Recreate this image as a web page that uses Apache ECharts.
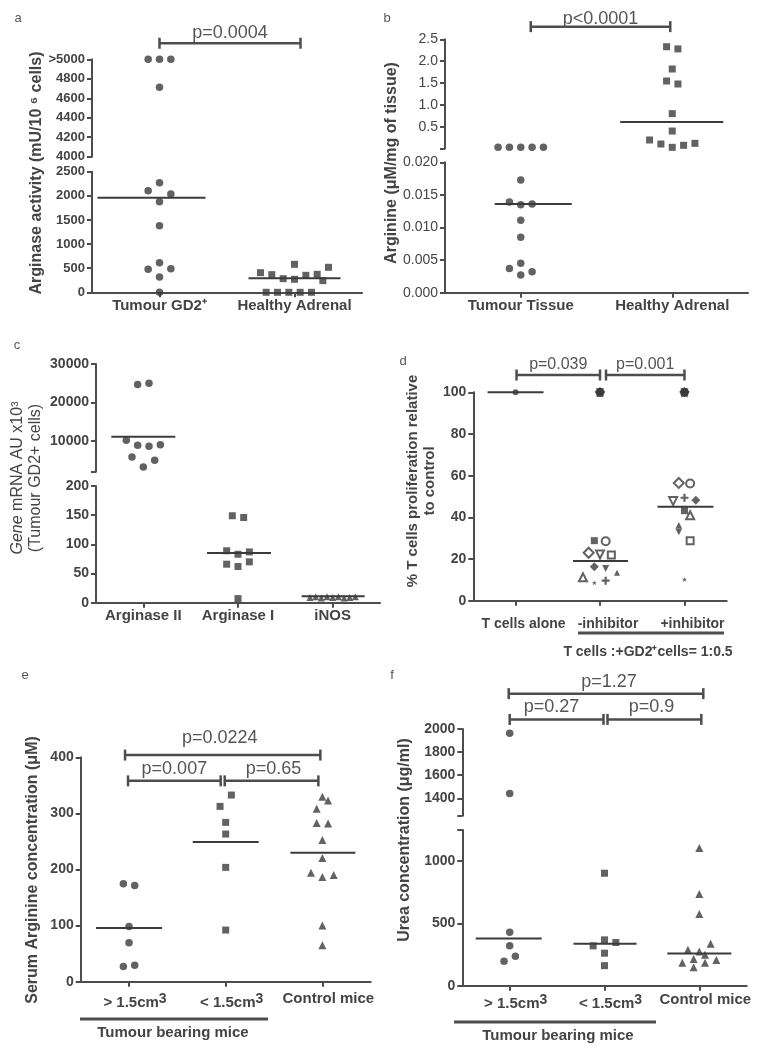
<!DOCTYPE html>
<html><head><meta charset="utf-8">
<script src="https://cdn.jsdelivr.net/npm/echarts@6/dist/echarts.min.js"></script>
<style>html,body{margin:0;padding:0;background:#fff}#c{width:760px;height:1049px}</style>
</head><body><div id="c"></div>
<script>
// ================= DATA =================
// Panel a – Arginase activity
const aCategories = ['Tumour GD2⁺', 'Healthy Adrenal'];
const aTumour  = [5000, 5000, 5000, 4712, 2272, 2106, 2037, 1878, 1381, 615, 476, 490, 318, 0];
const aHealthy = [407, 366, 283, 270, 580, 352, 373, 242, 518, 0, 0, 0, 0, 0];
const aMedians = [1960, 290];
const aPValues = ['p=0.0004'];

// Panel b – Arginine in tissue
const bCategories = ['Tumour Tissue', 'Healthy Adrenal'];
const bTumour  = [0.027, 0.027, 0.027, 0.027, 0.027, 0.0173, 0.0139, 0.0135, 0.0136, 0.0111, 0.0085, 0.0045, 0.0037, 0.0027, 0.0032];
const bHealthy = [2.33, 2.28, 1.82, 1.545, 1.477, 0.798, 0.40, 0.195, 0.103, 0.027, 0.073, 0.118];
const bMedians = [0.0136, 0.607];
const bPValues = ['p<0.0001'];

// Panel c – gene mRNA
const cCategories = ['Arginase II', 'Arginase I', 'iNOS'];
const cArgII = [24700, 25000, 10200, 8900, 8600, 9000, 5800, 5000, 3200];
const cArgI  = [149, 146, 89, 83, 87, 66, 62, 70, 7];
const cINOS  = [9, 10, 8, 10, 9, 10, 8, 9, 10];
const cMedians = [11100, 85, 11];

// Panel d – T cell proliferation (11 donors, same order in both groups)
const dCategories = ['T cells alone', '-inhibitor', '+inhibitor'];
const dAlone = [100];
const dMinusInhibitor = [28.8, 28.5, 23.0, 22.2, 21.9, 16.3, 15.4, 11.2, 13.4, 8.6, 9.6];
const dPlusInhibitor  = [43.2, 56.2, 56.5, 47.8, 28.8, 48.2, 33.1, 41.0, 36.3, 10.2, 49.4];
const dControlLevel = [100, 100];
const dMedians = [100, 19.0, 45.1];
const dPValues = ['p=0.039', 'p=0.001'];

// Panel e – serum arginine
const eCategories = ['> 1.5cm3', '< 1.5cm3', 'Control mice'];
const eLarge   = [174.7, 171.7, 98.6, 69.5, 27.3, 29.1];
const eSmall   = [332.7, 312.5, 284, 263.2, 203.8, 92.1];
const eControl = [329.8, 323.2, 308.4, 282.8, 282.2, 252.5, 220.4, 194.3, 186.6, 190.1, 100.4, 64.8];
const eMedians = [95.7, 249, 230];
const ePValues = ['p=0.0224', 'p=0.007', 'p=0.65'];

// Panel f – urea
const fCategories = ['> 1.5cm3', '< 1.5cm3', 'Control mice'];
const fLarge   = [1963, 1443, 430, 320, 237, 196];
const fSmall   = [903, 368, 261, 161, 320, 347];
const fControl = [1105, 737, 575, 336, 288, 274, 248, 215, 185, 185, 207, 148];
const fMedians = [379, 336, 258];
const fPValues = ['p=1.27', 'p=0.27', 'p=0.9'];

// ================= STYLE / LAYOUT =================
const DARK = '#3b3b3b', AX = '#4d4d4d', TXT = '#444', FONT = '"Liberation Sans", Arial, Helvetica, sans-serif';
const HS = 5.67; // half dot-slot in px (jitter spacing)

// jitter slots (in half-slot units) – layout only
const aTumourSlots  = [-2, 0, 2, 0, 0, -2, 2, 0, 0, 0, -2, 2, 0, 0];
const aHealthySlots = [-6, -4, -2, 0, 0, 2, 4, 5, 6, -5, -3, -1, 1, 3];
const bTumourSlots  = [-4, -2, 0, 2, 4, 0, -2, 0, 2, 0, 0, 0, -2, 0, 2];
const bHealthySlots = [-1, 1, 0, -1, 1, 0, 0, -4, -2, 0, 2, 4];
const cArgIISlots = [-1, 1, -3, -1, 1, 3, -2, 2, 0];
const cArgISlots  = [-1, 1, -2, 0, 2, -2, 0, 2, 0];
const cINOSSlots  = [-4, -3, -2, -1, 0, 1, 2, 3, 4];
const dMinusSlots = [-1, 1, -2, 0, 2, -1, 1, -3, 3, -1, 1];
const dPlusSlots  = [0, 1, -1, -2, 1, 2, -1, 1, -1, 0, 0];
const eLargeSlots = [-1, 1, 0, 0, -1, 1];
const eSmallSlots = [1, -1, 0, 0, 0, 0];
const eControlSlots = [0, 1, -1, -1, 1, 0, 0, -2, 0, 2, 0, 0];
const fLargeSlots = [0, 0, 0, 0, 1, -1];
const fSmallSlots = [0, 0, 0, 0, -2, 2];
const fControlSlots = [0, 0, 0, 2, -2, 0, 1, -1, -3, 1, 3, -1];

const PLUS = 'path://M36,0H64V36H100V64H64V100H36V64H0V36H36Z';
const STAR = 'path://M50,0L61,35L98,35L68,57L79,91L50,70L21,91L32,57L2,35L39,35Z';
const TRIDOWN = 'path://M0,0L100,0L50,87Z';
// donor symbol styles for panel d: [symbol, filled, size]
const dDonorStyle = [
  ['rect', true, 7], ['circle', false, 8], ['diamond', false, 10], [TRIDOWN, false, 8],
  ['rect', false, 7], ['diamond', true, 9], [TRIDOWN, true, 7], ['triangle', false, 8],
  ['triangle', true, 6], [STAR, true, 5], [PLUS, true, 8]
];
// shapes overlapping at the control level (gives the "burst" mark)
const dBurstStyle = [['circle', 9], ['diamond', 10], ['triangle', 8], [TRIDOWN, 8], ['rect', 6], [STAR, 11]];

const option = {animation: false, backgroundColor: '#fff', grid: [], xAxis: [], yAxis: [], series: [], graphic: []};

function addSeg(p, seg) {
  const gi = option.grid.length;
  option.grid.push({left: p.left, width: p.width, top: seg.top, height: seg.height, containLabel: false, outerBoundsMode: 'none'});
  const xl = {show: true, interval: 0, color: TXT, fontFamily: FONT, fontSize: p.xFont || 15, fontWeight: 'bold', margin: p.xMargin || 6};
  if (p.xPad) xl.padding = p.xPad;
  if (p.xFormatter) { xl.formatter = p.xFormatter; xl.rich = p.xRich; }
  option.xAxis.push({type: 'category', gridIndex: gi, data: p.categories, show: !!seg.showX, boundaryGap: true,
    axisLine: {show: true, onZero: false, lineStyle: {color: AX, width: 2}},
    axisTick: {show: true, alignWithLabel: true, length: 5, lineStyle: {color: AX, width: 2}},
    axisLabel: xl, splitLine: {show: false}});
  const y = {type: 'value', gridIndex: gi, min: seg.min, max: seg.max,
    axisLine: {show: true, onZero: false, lineStyle: {color: AX, width: 2}},
    axisTick: {show: true, length: 5, lineStyle: {color: AX, width: 2}},
    axisLabel: {color: TXT, fontFamily: FONT, fontSize: p.yFont || 14, fontWeight: p.yWeight || 'bold', margin: 7,
      formatter: seg.formatter || (v => String(v))},
    splitLine: {show: false}};
  if (seg.interval) y.interval = seg.interval;
  if (seg.ticks) y.axisTick.customValues = seg.ticks;
  if (seg.labels) y.axisLabel.customValues = seg.labels;
  option.yAxis.push(y);
  return gi;
}

function segOf(p, v) {
  for (let i = 0; i < p.segs.length; i++) if (v >= p.segs[i].min && v <= p.segs[i].max) return i;
  return p.segs.length - 1;
}

function buildPanel(p) {
  const gis = p.segs.map(s => addSeg(p, s));
  p.gis = gis;
  // points
  p.groups.forEach(g => {
    p.segs.forEach((s, si) => {
      const data = [];
      g.values.forEach((v, k) => {
        if (segOf(p, v) !== si) return;
        const item = {value: [g.cat, v], symbolOffset: [(g.slots ? g.slots[k] : 0) * HS, 0]};
        if (g.styles) {
          const st = g.styles[k];
          item.symbol = st[0]; item.symbolSize = st[2];
          item.itemStyle = st[1] ? {color: DARK, borderWidth: 0} : {color: '#fff', borderColor: DARK, borderWidth: 2};
        }
        data.push(item);
      });
      if (!data.length) return;
      option.series.push({type: 'scatter', xAxisIndex: gis[si], yAxisIndex: gis[si], clip: false, z: 3,
        symbol: g.symbol || 'circle', symbolSize: g.size || 7, itemStyle: {color: DARK}, data: data});
    });
  });
  // medians
  p.segs.forEach((s, si) => {
    const data = [];
    p.medians.forEach((m, k) => { if (segOf(p, m) === si) data.push([k, m]); });
    if (!data.length) return;
    option.series.push({type: 'custom', xAxisIndex: gis[si], yAxisIndex: gis[si], clip: false, z: 4, data: data,
      renderItem: (params, api) => {
        const c = api.coord([api.value(0), api.value(1)]);
        const ext = p.medianExt[api.value(0)];
        return {type: 'line', shape: {x1: c[0] + ext[0], y1: c[1], x2: c[0] + ext[1], y2: c[1]},
          style: {stroke: DARK, lineWidth: 2}};
      }});
  });
  // brackets
  if (p.brackets) {
    const si = p.bracketSeg;
    option.series.push({type: 'custom', xAxisIndex: gis[si], yAxisIndex: gis[si], clip: false, z: 4,
      data: p.brackets,
      renderItem: (params, api) => {
        const i = params.dataIndex;
        const adj = p.bracketAdj[i];
        const a = api.coord([api.value(0), api.value(2)]);
        const b = api.coord([api.value(1), api.value(2)]);
        const x1 = a[0] + adj[0], x2 = b[0] + adj[1], y = a[1];
        const st = {stroke: AX, lineWidth: 2.5};
        return {type: 'group', children: [
          {type: 'line', shape: {x1: x1, y1: y, x2: x2, y2: y}, style: st},
          {type: 'line', shape: {x1: x1, y1: y - 5.5, x2: x1, y2: y + 5.5}, style: st},
          {type: 'line', shape: {x1: x2, y1: y - 5.5, x2: x2, y2: y + 5.5}, style: st},
          {type: 'text', style: {text: p.pLabels[i], x: (x1 + x2) / 2 + (adj[2] || 0), y: y + adj[3],
            align: 'center', verticalAlign: 'middle', fill: '#555', font: (p.pFont || 18) + 'px ' + FONT}}
        ]};
      }});
  }
  return p;
}

const supRich = {s: {fontSize: 14, fontWeight: 'bold', fontFamily: FONT, color: TXT, padding: [0, 0, 9, 0]}};
const supFmt = v => v.replace('cm3', 'cm{s|3}');

// Panel a
buildPanel({left: 92, width: 270, categories: aCategories, yFont: 13,
  segs: [{top: 171.7, height: 120.6, min: 0, max: 2500, interval: 500, showX: true},
         {top: 59.3, height: 97.4, min: 4000, max: 5000, interval: 200, formatter: v => v === 5000 ? '>5000' : String(v)}],
  groups: [{cat: 0, values: aTumour, slots: aTumourSlots, symbol: 'circle', size: 7.5},
           {cat: 1, values: aHealthy, slots: aHealthySlots, symbol: 'rect', size: 7}],
  medians: aMedians, medianExt: [[-62, 46], [-46, 46]],
  brackets: [[0, 1, 5165]], bracketSeg: 1, bracketAdj: [[0, 6, 0, -10]], pLabels: aPValues});

// Panel b
buildPanel({left: 445, width: 303, categories: bCategories, yWeight: 'normal', yFont: 14,
  segs: [{top: 162.3, height: 130.4, min: 0, max: 0.02, interval: 0.005, showX: true, formatter: v => v.toFixed(3)},
         {top: 39.3, height: 109.2, min: 0, max: 2.5, interval: 0.5, formatter: v => v === 0 ? '' : v.toFixed(1)}],
  groups: [{cat: 0, values: bTumour, slots: bTumourSlots, symbol: 'circle', size: 7.5},
           {cat: 1, values: bHealthy, slots: bHealthySlots, symbol: 'rect', size: 7}],
  medians: bMedians, medianExt: [[-26, 51], [-52, 51]],
  brackets: [[0, 1, 2.79]], bracketSeg: 1, bracketAdj: [[10, -2, 0, -8]], pLabels: bPValues});

// Panel c
buildPanel({left: 96, width: 284, categories: cCategories,
  segs: [{top: 486, height: 116.7, min: 0, max: 200, interval: 50, showX: true},
         {top: 364, height: 107.7, min: 2000, max: 30000, ticks: [2000, 10000, 20000, 30000], labels: [10000, 20000, 30000]}],
  groups: [{cat: 0, values: cArgII, slots: cArgIISlots, symbol: 'circle', size: 7.5},
           {cat: 1, values: cArgI, slots: cArgISlots, symbol: 'rect', size: 7},
           {cat: 2, values: cINOS, slots: cINOSSlots, symbol: 'triangle', size: 7}],
  medians: cMedians, medianExt: [[-32, 32], [-31, 33], [-31, 32]]});

// Panel d
const pd = buildPanel({left: 473.3, width: 253.4, categories: dCategories, xFont: 14, xMargin: 16, xPad: [0, 0, 0, 16],
  segs: [{top: 392.3, height: 208.4, min: 0, max: 100, interval: 20, showX: true}],
  groups: [{cat: 0, values: dAlone, symbol: 'circle', size: 6},
           {cat: 1, values: dMinusInhibitor, slots: dMinusSlots, styles: dDonorStyle},
           {cat: 2, values: dPlusInhibitor, slots: dPlusSlots, styles: dDonorStyle}],
  medians: dMedians, medianExt: [[-28, 28], [-27, 28], [-27, 29]],
  brackets: [[0, 1, 108.3], [1, 2, 108.3]], bracketSeg: 0, bracketAdj: [[1, 0, 0, -10], [6, 0, 0, -10]],
  pLabels: dPValues, pFont: 16});
// overlapping donor symbols at control level (100) in the two co-culture groups
dControlLevel.forEach((v, k) => {
  const gi = pd.gis[0];
  option.series.push({type: 'scatter', xAxisIndex: gi, yAxisIndex: gi, clip: false, z: 3,
    data: dBurstStyle.map(st => ({value: [k + 1, v], symbol: st[0], symbolSize: st[1], itemStyle: {color: DARK}}))});
});

// Panel e
buildPanel({left: 80.7, width: 290, categories: eCategories, xMargin: 10, xPad: [0, 0, 0, 12],
  xFormatter: supFmt, xRich: supRich,
  segs: [{top: 757.3, height: 224.4, min: 0, max: 400, interval: 100, showX: true}],
  groups: [{cat: 0, values: eLarge, slots: eLargeSlots, symbol: 'circle', size: 7.5},
           {cat: 1, values: eSmall, slots: eSmallSlots, symbol: 'rect', size: 7},
           {cat: 2, values: eControl, slots: eControlSlots, symbol: 'triangle', size: 8}],
  medians: eMedians, medianExt: [[-33, 33], [-33, 33], [-32, 33]],
  brackets: [[0, 2, 404], [0, 1, 358], [1, 2, 358]], bracketSeg: 0,
  bracketAdj: [[-4, -2, -3, -17], [-1, -5, 0, -12], [-1, -4, 2, -12]], pLabels: ePValues});

// Panel f
buildPanel({left: 462.3, width: 284.4, categories: fCategories, xMargin: 7, xPad: [0, 0, 0, 12],
  xFormatter: supFmt, xRich: supRich,
  segs: [{top: 830, height: 155.7, min: 0, max: 1250, ticks: [0, 500, 1000, 1250], labels: [0, 500, 1000], showX: true},
         {top: 729, height: 86.7, min: 1250, max: 2000, ticks: [1250, 1400, 1600, 1800, 2000], labels: [1400, 1600, 1800, 2000]}],
  groups: [{cat: 0, values: fLarge, slots: fLargeSlots, symbol: 'circle', size: 7.5},
           {cat: 1, values: fSmall, slots: fSmallSlots, symbol: 'rect', size: 7},
           {cat: 2, values: fControl, slots: fControlSlots, symbol: 'triangle', size: 8}],
  medians: fMedians, medianExt: [[-34, 32], [-31, 32], [-32, 32]],
  brackets: [[0, 2, 2306], [0, 1, 2083], [1, 2, 2083]], bracketSeg: 1,
  bracketAdj: [[-1, 4, 3, -12], [0, -1, -5, -12], [3, 2, -3, -12]], pLabels: fPValues});

// ================= annotations (texts, group lines) =================
function txt(x, y, text, size, weight, rot, extra) {
  const o = {type: 'text', x: x, y: y, rotation: rot || 0, z: 10,
    style: Object.assign({text: text, align: 'center', verticalAlign: 'middle', fill: TXT,
      font: (weight || 'normal') + ' ' + size + 'px ' + FONT}, extra || {})};
  option.graphic.push(o);
}
function hline(x1, x2, y, w) {
  option.graphic.push({type: 'line', z: 10, shape: {x1: x1, y1: y, x2: x2, y2: y}, style: {stroke: AX, lineWidth: w}});
}
const R = Math.PI / 2;
[['a', 18, 18], ['b', 387, 18], ['c', 17, 345], ['d', 403, 361], ['e', 25, 675], ['f', 392, 675]]
  .forEach(l => txt(l[1], l[2], l[0], 13, 'normal', 0, {fill: '#555'}));
txt(37, 173, 'Arginase activity (mU/10 ⁶ cells)', 16, 'bold', R);
txt(392, 163, 'Arginine (μM/mg of tissue)', 16, 'bold', R);
txt(27, 478, '{i|Gene} mRNA AU x10³\n(Tumour GD2+ cells)', 16, 'normal', R,
  {lineHeight: 18, rich: {i: {fontStyle: 'italic', fontSize: 16, fontFamily: FONT, fill: TXT, lineHeight: 18}}});
txt(421, 481, '% T cells proliferation relative\nto control', 15, 'bold', R, {lineHeight: 17});
txt(33, 870, 'Serum Arginine concentration (μM)', 16, 'bold', R);
txt(405, 840, 'Urea concentration (μg/ml)', 16, 'bold', R);
hline(578, 724, 633, 3);
txt(648, 652, 'T cells :+GD2⁺cells= 1:0.5', 14, 'bold');
hline(80, 268, 1019, 3);
txt(173, 1033, 'Tumour bearing mice', 15, 'bold');
hline(454, 656, 1022, 3);
txt(558, 1036, 'Tumour bearing mice', 15, 'bold');

const chart = echarts.init(document.getElementById('c'), null, {renderer: 'canvas'});
chart.setOption(option);
</script></body></html>
